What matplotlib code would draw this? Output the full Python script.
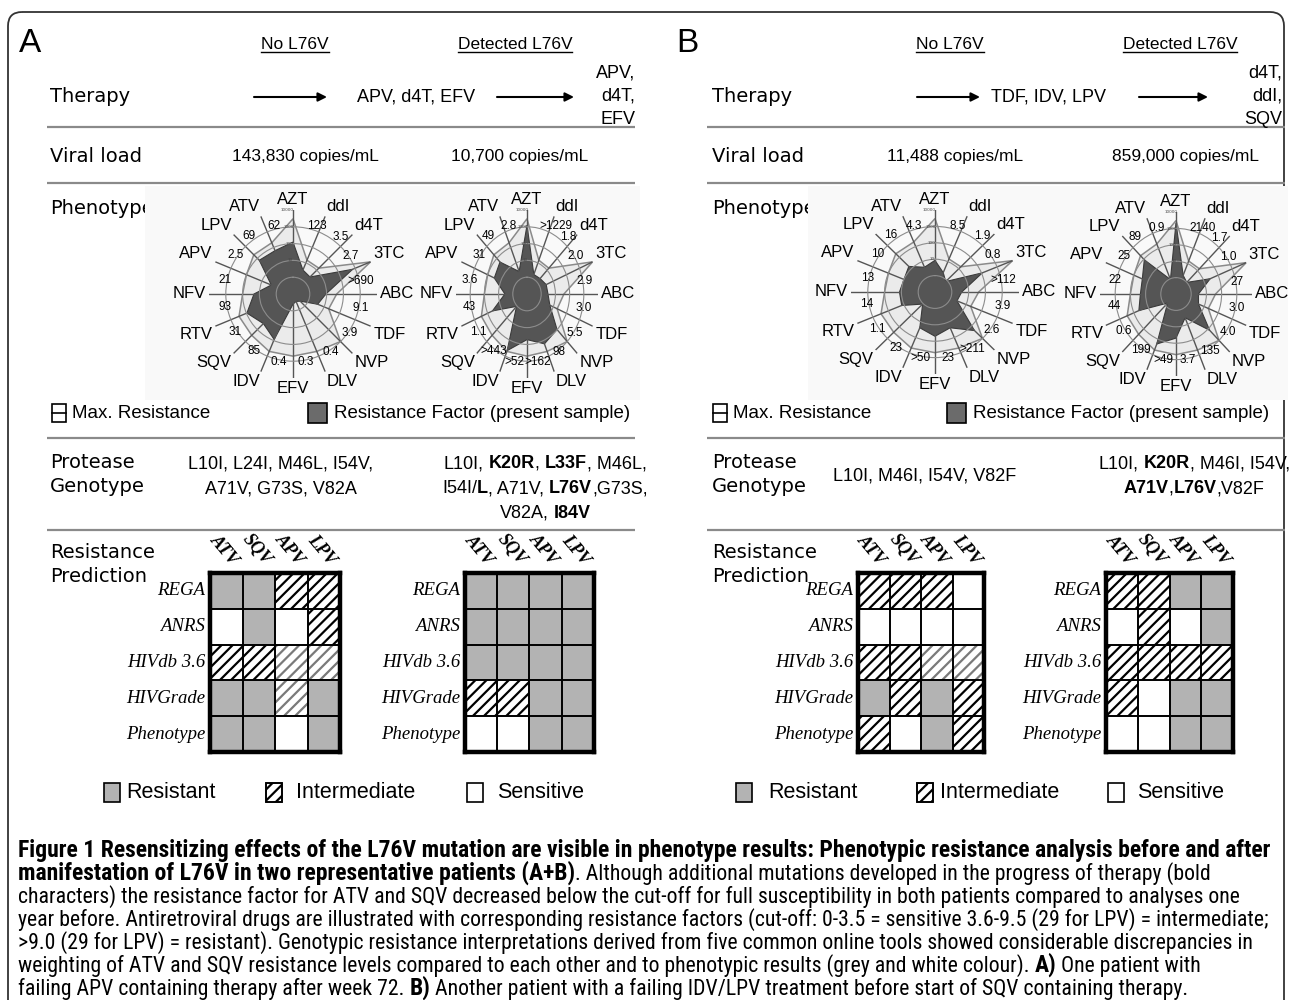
import re
import numpy as np
import matplotlib
matplotlib.use('Agg')
import matplotlib.pyplot as plt
from matplotlib import font_manager
from matplotlib.font_manager import FontProperties
from matplotlib.patches import Rectangle, FancyBboxPatch
from matplotlib.ticker import NullLocator

plt.rcParams['hatch.linewidth'] = 1.6

# ---------------- data ----------------
drugs = ['AZT', 'ddI', 'd4T', '3TC', 'ABC', 'TDF', 'NVP', 'DLV', 'EFV',
         'IDV', 'SQV', 'RTV', 'NFV', 'APV', 'LPV', 'ATV']
max_res = [3000, 15, 15, 10000, 40, 20, 1000, 500, 500, 500, 300, 300, 100, 100, 200, 200]
rf_a1 = ['123', '3.5', '2.7', '>690', '9.1', '3.9', '0.4', '0.3', '0.4',
         '85', '31', '93', '21', '2.5', '69', '62']
rf_a2 = ['>1229', '1.8', '2.0', '2.9', '3.0', '5.5', '98', '>162', '>52',
         '>443', '1.1', '43', '3.6', '31', '49', '2.8']
rf_b1 = ['8.5', '1.9', '0.8', '>112', '3.9', '2.6', '>211', '23', '>50',
         '23', '1.1', '14', '13', '10', '16', '4.3']
rf_b2 = ['2140', '1.7', '1.0', '27', '3.0', '4.0', '135', '3.7', '>49',
         '199', '0.6', '44', '22', '25', '89', '0.9']

tools = ['REGA', 'ANRS', 'HIVdb 3.6', 'HIVGrade', 'Phenotype']
pis = ['ATV', 'SQV', 'APV', 'LPV']
# R resistant, I intermediate, G intermediate (grey hatch), S sensitive
pred_a1 = ['RRII', 'SRSI', 'IIGG', 'RRGR', 'RRSR']
pred_a2 = ['RRRR', 'RRRR', 'RRRR', 'IIRR', 'SSRR']
pred_b1 = ['IIIS', 'SSSS', 'IIGG', 'RIRI', 'ISRI']
pred_b2 = ['IIRR', 'SISR', 'IIII', 'ISRR', 'SSRR']

headers = ['No L76V', 'Detected L76V']
therapy_a = ['APV, d4T, EFV', ['APV,', 'd4T,', 'EFV']]
therapy_b = ['TDF, IDV, LPV', ['d4T,', 'ddI,', 'SQV']]
viral_a = ['143,830 copies/mL', '10,700 copies/mL']
viral_b = ['11,488 copies/mL', '859,000 copies/mL']
geno_a = [['L10I, L24I, M46L, I54V,', 'A71V, G73S, V82A'],
          ['L10I, **K20R**, **L33F**, M46L,', 'I54I/**L**, A71V, **L76V**,G73S,', 'V82A, **I84V**']]
geno_b = [['L10I, M46I, I54V, V82F'],
          ['L10I, **K20R**, M46I, I54V,', '**A71V**,**L76V**,V82F']]
pred_legend = ['Resistant', 'Intermediate', 'Sensitive']

caption = [
    '**Figure 1 Resensitizing effects of the L76V mutation are visible in phenotype results: Phenotypic resistance analysis before and after**',
    '**manifestation of L76V in two representative patients (A+B)**. Although additional mutations developed in the progress of therapy (bold',
    'characters) the resistance factor for ATV and SQV decreased below the cut-off for full susceptibility in both patients compared to analyses one',
    'year before. Antiretroviral drugs are illustrated with corresponding resistance factors (cut-off: 0-3.5 = sensitive 3.6-9.5 (29 for LPV) = intermediate;',
    '>9.0 (29 for LPV) = resistant). Genotypic resistance interpretations derived from five common online tools showed considerable discrepancies in',
    'weighting of ATV and SQV resistance levels compared to each other and to phenotypic results (grey and white colour). **A)** One patient with',
    'failing APV containing therapy after week 72. **B)** Another patient with a failing IDV/LPV treatment before start of SQV containing therapy.',
]

# ---------------- fonts ----------------
names = {f.name for f in font_manager.fontManager.ttflist}


def pick(*cands):
    for n in cands:
        if n in names:
            return n
    return 'DejaVu Sans'


SANS = pick('Liberation Sans', 'Arial')
LAB = pick('DejaVu Sans')
SERIF = pick('Liberation Serif', 'DejaVu Serif')
NARROW = pick('Liberation Sans Narrow', 'DejaVu Sans Condensed', 'Roboto Condensed', 'Liberation Sans')

# ---------------- canvas ----------------
W, H = 1290, 1000
fig = plt.figure(figsize=(W / 100, H / 100), dpi=100)
ax = fig.add_axes([0, 0, 1, 1])
ax.set_xlim(0, W)
ax.set_ylim(H, 0)
ax.axis('off')
rend = fig.canvas.get_renderer()


def fp(size, family=SANS, weight='normal', style='normal'):
    return FontProperties(family=family, size=size, weight=weight, style=style)


def width(s, prop):
    return rend.get_text_width_height_descent(s, prop, ismath=False)[0]


def px_axes(x0, y0, x1, y1, **kw):
    return fig.add_axes([x0 / W, 1 - y1 / H, (x1 - x0) / W, (y1 - y0) / H], **kw)


def rich(x, y, s, size, family=SANS, ha='left', draw=True, bsize=None):
    reg = fp(size, family)
    bold = fp(bsize or size, family, 'bold')
    space = width('a a', reg) - width('aa', reg)
    pieces, cur = [], 0.0
    for part in re.split(r'(\*\*.*?\*\*)', s):
        if not part:
            continue
        prop = bold if part.startswith('**') else reg
        part = part.strip('*')
        core = part.strip(' ')
        cur += (len(part) - len(part.lstrip(' '))) * space
        if core:
            pieces.append((cur, core, prop))
            cur += width(core, prop)
        cur += (len(part) - len(part.rstrip(' '))) * space
    if draw:
        x0 = x - cur / 2 if ha == 'center' else x
        for dx, core, prop in pieces:
            ax.text(x0 + dx, y, core, fontproperties=prop, ha='left', va='baseline')
    return cur


theta = np.deg2rad(np.arange(len(drugs)) * 22.5)


def radar(cx, cy, rx, ry, rf):
    vals = [float(t.lstrip('>')) for t in rf]
    p = px_axes(cx - rx, cy - ry, cx + rx, cy + ry, projection='polar')
    p.set_theta_zero_location('N')
    p.set_theta_direction(-1)
    p.set_rscale('log')
    p.set_rlim(0.1, 10000)
    p.set_aspect('auto')
    p.patch.set_visible(False)
    p.spines['polar'].set_visible(False)
    p.set_xticks(theta)
    p.set_xticklabels([])
    p.set_yticks([1, 10, 100, 1000])
    p.set_yticklabels([])
    p.yaxis.set_minor_locator(NullLocator())
    p.tick_params(length=0)
    p.xaxis.grid(True, color='#555555', lw=1.0)
    p.yaxis.grid(True, color='#8c8c8c', lw=0.8)
    p.set_axisbelow(False)
    p.fill(theta, max_res, facecolor='#ebebeb', edgecolor='#8a8a8a', lw=1.1, zorder=1)
    p.fill(theta, vals, facecolor='#555555', edgecolor='#3a3a3a', lw=0.8, zorder=2)
    for th, name, txt in zip(theta, drugs, rf):
        s, c = np.sin(th), np.cos(th)
        ha = 'left' if s > 0.3 else ('right' if s < -0.3 else 'center')
        va = 'bottom' if c > 0.3 else ('top' if c < -0.3 else 'center')
        p.annotate(name, xy=(th, 10000), xytext=(2 * s, 2 * c), textcoords='offset points',
                   ha=ha, va=va, fontproperties=fp(12), annotation_clip=False)
        tn = th + np.deg2rad(12)
        nha = 'center'
        if np.cos(tn) > 0.8:
            nha = 'left' if np.sin(tn) > 0 else 'right'
        p.text(tn, 1300, txt, ha=nha, va='center', fontproperties=fp(8.5), clip_on=False)
    for v in [10, 100, 1000, 10000]:
        p.text(np.deg2rad(-4), v, str(v), fontsize=3, color='#444444',
               ha='center', va='center', clip_on=False)


cell_face = {'R': '#b3b3b3', 'I': 'white', 'G': 'white', 'S': 'white'}
hatch_col = {'I': 'black', 'G': '#7a7a7a'}


def grid(x0, x1, codes, y0=573, y1=752):
    g = px_axes(x0, y0, x1, y1)
    g.set_xlim(0, 4)
    g.set_ylim(5, 0)
    g.set_xticks([])
    g.set_yticks([])
    for r, row in enumerate(codes):
        for c, code in enumerate(row):
            g.add_patch(Rectangle((c, r), 1, 1, facecolor=cell_face[code], lw=0))
            if code in hatch_col:
                g.add_patch(Rectangle((c, r), 1, 1, facecolor='none', edgecolor=hatch_col[code],
                                      hatch='///', lw=0))
    for k in range(1, 4):
        g.axvline(k, color='black', lw=1.4)
    for k in range(1, 5):
        g.axhline(k, color='black', lw=1.4)
    for sp in g.spines.values():
        sp.set_linewidth(3.2)
    rh = (y1 - y0) / 5
    cw = (x1 - x0) / 4
    for r, t in enumerate(tools):
        ax.text(x0 - 5, y0 + (r + 0.5) * rh, t, ha='right', va='center',
                fontproperties=fp(13.5, SERIF, style='italic'))
    for c, t in enumerate(pis):
        ax.text(x0 + (c + 0.5) * cw - 2, y0 - 23, t, ha='center', va='center', rotation=-50,
                fontproperties=fp(13, SERIF, 'bold', 'italic'))


def panel(lab, labx, x0, x1, rowx, hdr_x, arrows, t1x, t2x, therapy, vir_x, viral,
          radars, rfs, bgx, legx, geno_x, geno, grids, preds, gicons, gtext):
    ax.text(labx, 44, lab, fontproperties=fp(24), ha='left', va='center')
    hp = fp(12.5)
    for cx, t in zip(hdr_x, headers):
        ax.text(cx, 49, t, fontproperties=hp, ha='center', va='baseline')
        w = width(t, hp)
        ax.plot([cx - w / 2, cx + w / 2], [52, 52], color='black', lw=1.0)
    lp = fp(14, LAB)
    ax.text(rowx, 96, 'Therapy', fontproperties=lp, ha='left', va='center')
    for a0, a1 in arrows:
        ax.annotate('', xy=(a1, 97), xytext=(a0, 97),
                    arrowprops=dict(arrowstyle='-|>', lw=1.5, color='black', mutation_scale=13,
                                    shrinkA=0, shrinkB=0))
    ax.text(t1x, 97, therapy[0], fontproperties=fp(13), ha='left', va='center')
    for k, t in enumerate(therapy[1]):
        ax.text(t2x, 73 + 23 * k, t, fontproperties=fp(13), ha='right', va='center')
    ax.text(rowx, 157, 'Viral load', fontproperties=lp, ha='left', va='center')
    for cx, t in zip(vir_x, viral):
        ax.text(cx, 157, t, fontproperties=fp(12.5), ha='center', va='center')
    for y in [127, 183, 438, 530]:
        ax.plot([x0, x1], [y, y], color='#8a8a8a', lw=1.6, solid_capstyle='butt')
    ax.text(rowx, 208, 'Phenotype', fontproperties=lp, ha='left', va='center')
    bg = px_axes(bgx[0], 186, bgx[1], 400)
    bg.set_facecolor('#f9f9f9')
    bg.set_xticks([])
    bg.set_yticks([])
    for sp in bg.spines.values():
        sp.set_visible(False)
    for (cx, cy, rx, ry), rf in zip(radars, rfs):
        radar(cx, cy, rx, ry, rf)
    # radar legend
    ax.add_patch(Rectangle((legx[0], 404), 14, 18, facecolor='white', edgecolor='black', lw=1.2))
    ax.plot([legx[0], legx[0] + 14], [413, 413], color='black', lw=1.2)
    ax.text(legx[0] + 20, 413, 'Max. Resistance', fontproperties=fp(13.5), ha='left', va='center')
    ax.add_patch(Rectangle((legx[1], 403), 19, 20, facecolor='#6b6b6b', edgecolor='black', lw=1.2))
    ax.text(legx[1] + 26, 413, 'Resistance Factor (present sample)', fontproperties=fp(13.5),
            ha='left', va='center')
    # genotype
    ax.text(rowx, 462, 'Protease', fontproperties=lp, ha='left', va='center')
    ax.text(rowx, 486, 'Genotype', fontproperties=lp, ha='left', va='center')
    for gx, lines in zip(geno_x, geno):
        ys = [474] if len(lines) == 1 else [462 + 24.5 * k for k in range(len(lines))]
        for y, line in zip(ys, lines):
            rich(gx, y + 6.5, line, 13, ha='center')
    # prediction
    ax.text(rowx, 553, 'Resistance', fontproperties=lp, ha='left', va='center')
    ax.text(rowx, 577, 'Prediction', fontproperties=lp, ha='left', va='center')
    for (g0, g1), codes in zip(grids, preds):
        grid(g0, g1, codes)
    lf = fp(15.5)
    for code, ix, tx, t in zip('RIS', gicons, gtext, pred_legend):
        ax.add_patch(Rectangle((ix, 783), 16, 19, facecolor=cell_face[code], edgecolor='black', lw=1.2))
        if code == 'I':
            ax.add_patch(Rectangle((ix, 783), 16, 19, facecolor='none', edgecolor='black',
                                   hatch='///', lw=1.2))
        ax.text(tx, 793, t, fontproperties=lf, ha='left', va='center')


ax.add_patch(FancyBboxPatch((8, 12), 1276, 1100, boxstyle='round,pad=0,rounding_size=14',
                            fill=False, edgecolor='#333333', lw=1.3))

panel('A', 19, 47, 635, 50, (295, 515), ((254, 327), (497, 574)), 357, 635, therapy_a,
      (305, 520), viral_a, ((293, 294, 84, 84), (527, 294, 71, 84)), (rf_a1, rf_a2),
      (145, 640), (52, 308), (281, 545), geno_a, ((210, 340), (465, 594)), (pred_a1, pred_a2),
      (104, 266, 467), (126, 296, 497))
panel('B', 676, 707, 1285, 712, (950, 1180), ((917, 980), (1139, 1208)), 991, 1282, therapy_b,
      (955, 1185), viral_b, ((935, 292, 84, 82), (1176, 294, 76, 82)), (rf_b1, rf_b2),
      (808, 1288), (713, 947), (925, 1194), geno_b, ((858, 984), (1106, 1233)), (pred_b1, pred_b2),
      (736, 917, 1108), (768, 940, 1137))

# caption: regular size fitted to the widest regular line, bold a little larger to fill line 1
base = 13
fs_cap = base * 1250 / rich(0, 0, caption[3], base, NARROW, draw=False)
w_b = rich(0, 0, caption[0], fs_cap, NARROW, draw=False)
fs_bold = fs_cap * min(1.1, 1255 / w_b)
for k, line in enumerate(caption):
    rich(18, 857 + 23 * k, line, fs_cap, NARROW, bsize=fs_bold)

fig.savefig('out.png', dpi=100)
